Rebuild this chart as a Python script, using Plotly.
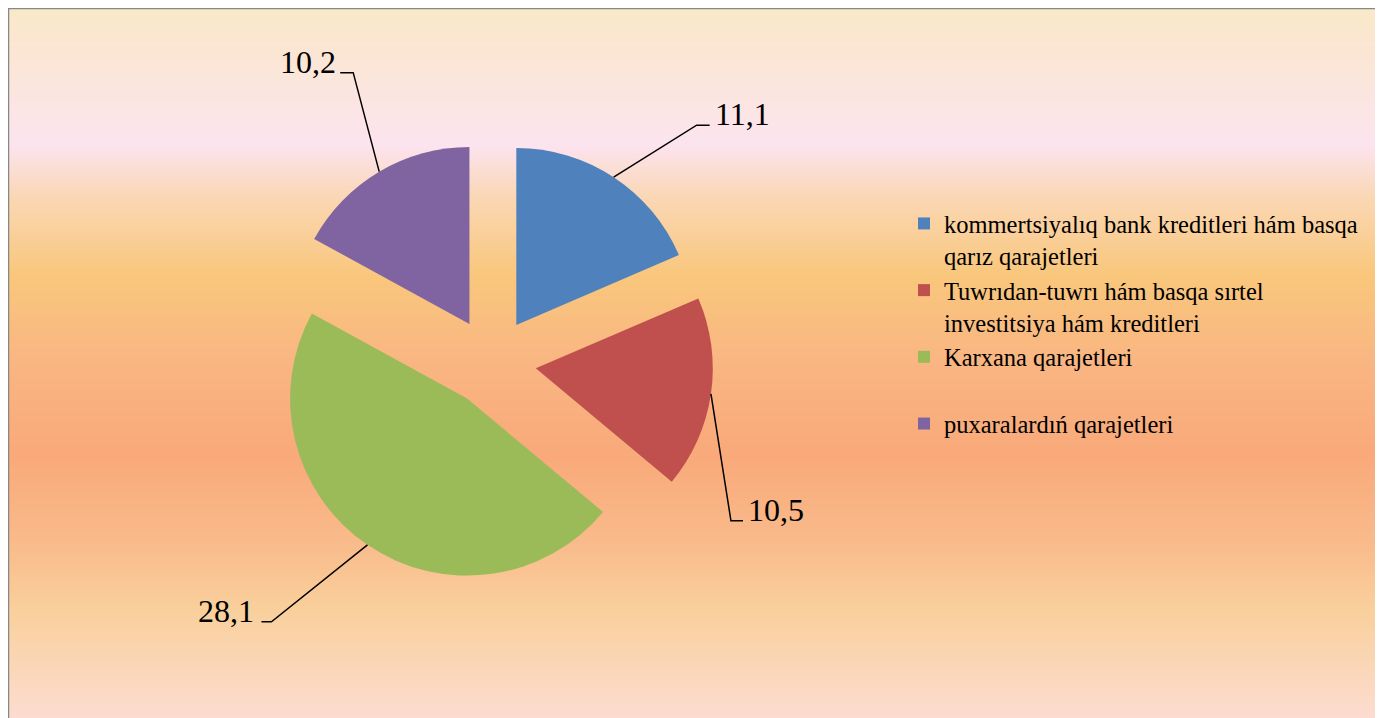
import math
import plotly.graph_objects as go

# --- data ---
kategoriyalar = [
    "kommertsiyalıq bank kreditleri hám basqa<br>qarız qarajetleri",
    "Tuwrıdan-tuwrı hám basqa sırtel<br>investitsiya hám kreditleri",
    "Karxana qarajetleri<br> ",
    "puxaralardıń qarajetleri",
]
manisler = [11.1, 10.5, 28.1, 10.2]
renler = ["#4F81BD", "#C0504D", "#9BBB59", "#8064A2"]

# --- geometry / style (page pixels) ---
OX, OY = 8, 8          # body margin of the page
PW, PH = 1375, 710     # figure size
CX, CY, BOX = 492, 362, 221.25   # pie centre and half box
PULL = 0.25

# leader line: (elbow dx, elbow dy, stub dx, text gap) in px, text side
leader = [
    (83, -52, 13, 3, "left"),
    (20, 127, 12, 3, "left"),
    (-96, 77, -10, -5, "right"),
    (-26, -99, -13, -2, "right"),
]

# background gradient stops (px from top, colour)
fon = [
    (8, (0xFA, 0xE8, 0xC9)),
    (60, (0xFB, 0xE6, 0xD6)),
    (145, (0xFC, 0xE4, 0xEF)),
    (200, (0xFA, 0xD6, 0xB2)),
    (275, (0xF9, 0xC7, 0x7C)),
    (360, (0xF9, 0xB6, 0x82)),
    (455, (0xF9, 0xA9, 0x7A)),
    (540, (0xF9, 0xBA, 0x8A)),
    (610, (0xF9, 0xD0, 0x9C)),
    (718, (0xFC, 0xDC, 0xD0)),
]


def px(x, y):
    return (x - OX) / PW, 1 - (y - OY) / PH


def fon_reng(y):
    for (y0, c0), (y1, c1) in zip(fon[:-1], fon[1:]):
        if y0 <= y <= y1:
            t = (y - y0) / (y1 - y0)
            return "rgb(%d,%d,%d)" % tuple(round(a + (b - a) * t) for a, b in zip(c0, c1))
    return "rgb(%d,%d,%d)" % fon[-1][1]


shapes = []
for y in range(8, 720, 2):
    x0, y0 = px(0, y)
    x1, y1 = px(1400, y + 3)
    shapes.append(dict(type="rect", xref="paper", yref="paper", x0=x0, x1=x1, y0=y1, y1=y0,
                       fillcolor=fon_reng(y + 1), line=dict(width=0), layer="below"))
shapes.append(dict(type="rect", xref="paper", yref="paper", x0=0, x1=1.05, y0=-0.05, y1=1,
                   line=dict(color="#878787", width=2.5), layer="below"))

dx0, dy1 = px(CX - BOX, CY - BOX)
dx1, dy0 = px(CX + BOX, CY + BOX)

fig = go.Figure()
fig.add_trace(go.Pie(
    labels=kategoriyalar,
    values=manisler,
    marker=dict(colors=renler, line=dict(width=0)),
    pull=[PULL] * len(manisler),
    sort=False,
    direction="clockwise",
    rotation=0,
    textinfo="none",
    hoverinfo="value+percent",
    domain=dict(x=[dx0, dx1], y=[dy0, dy1]),
))

# leader lines + value labels, anchored at the bisector of each slice
jami = sum(manisler)
annotations = []
bas = 0
for v, (ex, ey, sx, gap, side) in zip(manisler, leader):
    theta = math.radians((bas + v / 2) / jami * 360)
    bas += v
    ax_, ay_ = CX + BOX * math.sin(theta), CY - BOX * math.cos(theta)
    ex_, ey_ = ax_ + ex, ay_ + ey
    sx_ = ex_ + sx
    p = [px(ax_, ay_), px(ex_, ey_), px(sx_, ey_)]
    shapes.append(dict(type="path", xref="paper", yref="paper",
                       path="M %f,%f L %f,%f L %f,%f" % (p[0] + p[1] + p[2]),
                       line=dict(color="black", width=1.5)))
    tx, ty = px(sx_ + gap, ey_ - 11)
    annotations.append(dict(xref="paper", yref="paper", x=tx, y=ty, showarrow=False,
                            text=f"{v:.1f}".replace(".", ","), xanchor=side, yanchor="middle",
                            font=dict(family="Liberation Serif", size=32, color="black")))

lx, ly = px(904, 201)
fig.update_layout(
    width=PW,
    height=PH,
    paper_bgcolor="white",
    plot_bgcolor="rgba(0,0,0,0)",
    margin=dict(l=0, r=0, t=0, b=0),
    shapes=shapes,
    annotations=annotations,
    showlegend=True,
    legend=dict(x=lx, y=ly, xanchor="left", yanchor="top", bgcolor="rgba(0,0,0,0)",
                font=dict(family="Liberation Serif", size=24.5, color="black"),
                valign="top"),
)

fig.write_html("out.html")
